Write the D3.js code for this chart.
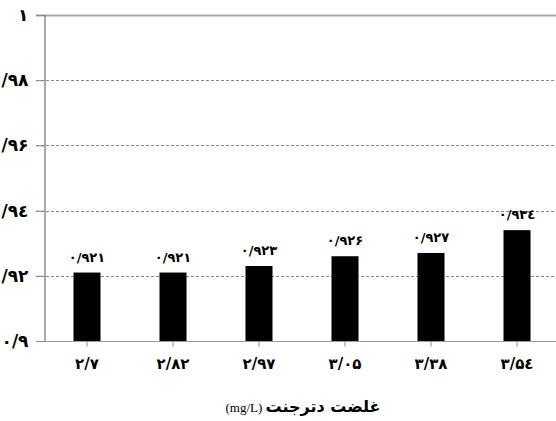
<!DOCTYPE html>
<html lang="fa">
  <head>
    <meta charset="utf-8">
    <script src="https://d3js.org/d3.v7.min.js"></script>
    <style>
      body { margin: 0; background: #fff; }
      text { font-family: "DejaVu Sans", sans-serif; }
    </style>
  </head>
  <body>
    <svg width="556" height="421"></svg>
    <script>
      // data
      var categories = ["۲/۷", "۲/۸۲", "۲/۹۷", "۳/۰۵", "۳/۳۸", "۳/۵٤"];
      var values = [0.921, 0.921, 0.923, 0.926, 0.927, 0.934];
      var valueLabels = ["۰/۹۲۱", "۰/۹۲۱", "۰/۹۲۳", "۰/۹۲۶", "۰/۹۲۷", "۰/۹۳٤"];
      var yTicks = [0.9, 0.92, 0.94, 0.96, 0.98, 1];
      var yTickLabels = ["۰/۹", "۰/۹۲", "۰/۹٤", "۰/۹۶", "۰/۹۸", "۱"];

      var svg = d3.select("svg");

      var y = d3.scaleLinear().domain([0.9, 1]).range([341, 15]);
      var x = d3.scaleBand().domain(categories).range([44, 560])
          .paddingInner(0.686).paddingOuter(0.343);

      // grid lines
      svg.append("g")
        .selectAll("line")
        .data(yTicks.filter(function(d) { return d > 0.9; }))
        .enter().append("line")
          .attr("x1", 36).attr("x2", 556)
          .attr("y1", function(d) { return Math.round(y(d)) + 0.5; })
          .attr("y2", function(d) { return Math.round(y(d)) + 0.5; })
          .style("stroke", function(d) { return d === 1 ? "#aaa" : "#888"; })
          .style("stroke-width", function(d) { return d === 1 ? 2 : 1; })
          .style("stroke-dasharray", function(d) { return d === 1 ? null : "3,2"; });

      // bars
      svg.append("g")
        .selectAll("rect")
        .data(values)
        .enter().append("rect")
          .attr("x", function(d, i) { return x(categories[i]); })
          .attr("width", x.bandwidth())
          .attr("y", function(d) { return y(d); })
          .attr("height", function(d) { return y(0.9) - y(d); })
          .style("fill", "#000");

      // value labels
      svg.append("g")
        .selectAll("text")
        .data(values)
        .enter().append("text")
          .attr("x", function(d, i) { return x(categories[i]) + x.bandwidth() / 2; })
          .attr("y", function(d) { return y(d) - 11; })
          .attr("text-anchor", "middle")
          .style("font-size", "13px")
          .style("font-weight", "bold")
          .text(function(d, i) { return valueLabels[i]; });

      // y axis (labels run off the left edge, like the original)
      var yAxis = svg.append("g")
        .attr("transform", "translate(44.5,0)")
        .call(d3.axisLeft(y).tickValues(yTicks).tickSize(8).tickPadding(8)
          .tickFormat(function(d, i) { return yTickLabels[i]; }));
      yAxis.select(".domain").style("stroke", "#555");
      yAxis.selectAll(".tick line").style("stroke", "#888");
      yAxis.selectAll("text")
        .style("font-size", "17px").style("font-weight", "bold")
        .style("font-family", "DejaVu Sans, sans-serif").attr("fill", "#000");

      // x axis
      var xAxis = svg.append("g")
        .attr("transform", "translate(0,341.5)")
        .call(d3.axisBottom(x).tickSizeInner(5).tickSizeOuter(0).tickPadding(12));
      xAxis.select(".domain").attr("d", "M44,0H556").style("stroke", "#999");
      xAxis.selectAll(".tick line").style("stroke", "#888");
      xAxis.selectAll("text")
        .style("font-size", "15px").style("font-weight", "bold")
        .style("font-family", "DejaVu Sans, sans-serif").attr("fill", "#000");

      // axis title
      var title = svg.append("text")
        .attr("x", 303).attr("y", 412)
        .attr("text-anchor", "middle");
      title.append("tspan")
        .style("font-family", "Liberation Serif, serif")
        .style("font-size", "13px")
        .text("(mg/L) ");
      title.append("tspan")
        .style("font-size", "16px")
        .style("font-weight", "bold")
        .text("غلضت دترجنت");
    </script>
  </body>
</html>
